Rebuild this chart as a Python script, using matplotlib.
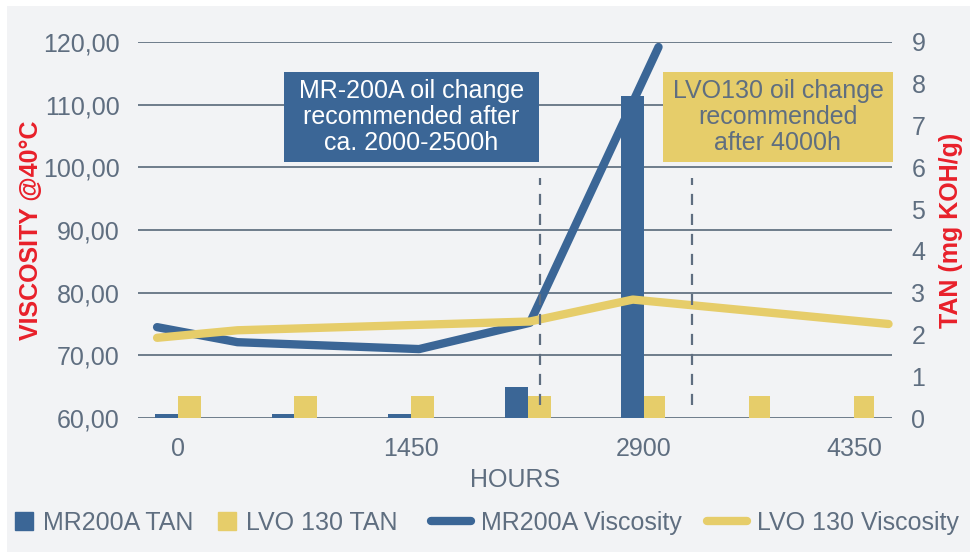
import numpy as np
import matplotlib
matplotlib.use('Agg')
import matplotlib.pyplot as plt
from matplotlib.patches import Rectangle
from matplotlib.lines import Line2D
from matplotlib.ticker import FuncFormatter

plt.rcParams['font.family'] = ['Liberation Sans', 'DejaVu Sans']

# sample hours for TAN bars
hours = [0, 725, 1450, 2175, 2900, 3625, 4350]
mr_tan = [0.1, 0.1, 0.1, 0.75, 7.7, 0.0, 0.0]
lvo_tan = [0.53, 0.53, 0.53, 0.53, 0.53, 0.53, 0.53]

# viscosity curves (hours, cSt @40C)
mr_visc_h = [-130, 370, 1500, 2190, 3000]
mr_visc = [74.5, 72.1, 71.0, 75.2, 119.2]
lvo_visc_h = [-130, 370, 2190, 2830, 4590]
lvo_visc = [72.8, 74.0, 75.4, 78.9, 75.0]

# recommended oil change markers
change_h = [2250, 3230]

xticks = [0, 1450, 2900, 4350]
visc_ticks = [60, 70, 80, 90, 100, 110, 120]
tan_ticks = list(range(10))

BLUE = '#3b6696'
YELLOW = '#e6cd6a'
GRAY_TXT = '#5f6e80'
GRID = '#6e7c8b'
BG = '#f2f3f5'
RED = '#e8202a'
FS = 18


def fwd(h):
    h = np.asarray(h, dtype=float)
    return np.where(h <= 2900, h, 2900 + (h - 2900) * 0.9)


def inv(x):
    x = np.asarray(x, dtype=float)
    return np.where(x <= 2900, x, 2900 + (x - 2900) / 0.9)


fig = plt.figure(figsize=(9.77, 5.59), dpi=100, facecolor='white')
fig.patches.append(Rectangle((0.0072, 0.0125), 0.9857, 0.9767, transform=fig.transFigure,
                             facecolor=BG, edgecolor='none', zorder=-10))

ax = fig.add_axes([0.1412, 0.2522, 0.7718, 0.6727])
ax.set_xscale('function', functions=(fwd, inv))
ax.patch.set_visible(False)
axr = ax.twinx()
axl = ax.twinx()

# grid on the bottom axes
for v in visc_ticks:
    ax.axhline(v, color=GRID, lw=1.4, zorder=0)
ax.set_ylim(60, 120)
ax.set_xlim(-249, 4614)
ax.set_yticks(visc_ticks)
ax.yaxis.set_major_formatter(FuncFormatter(lambda v, p: ('%.2f' % v).replace('.', ',')))
ax.set_xticks(xticks)
ax.set_xticklabels([str(t) for t in xticks])
ax.tick_params(axis='y', length=0, pad=13, labelsize=FS, labelcolor=GRAY_TXT)
ax.tick_params(axis='x', length=0, pad=14, labelsize=FS, labelcolor=GRAY_TXT)
ax.set_xlabel('HOURS', fontsize=FS, color=GRAY_TXT, labelpad=5)
ax.set_ylabel('VISCOSITY @40°C', fontsize=FS, color=RED, fontweight='bold', labelpad=0)

# TAN bars
w = 143
axr.bar(hours, mr_tan, width=-w, align='edge', color=BLUE, zorder=2)
axr.bar(hours, lvo_tan, width=w, align='edge', color=YELLOW, zorder=2)
axr.set_ylim(0, 9)
axr.set_yticks(tan_ticks)
axr.tick_params(axis='y', length=0, pad=14, labelsize=FS, labelcolor=GRAY_TXT)
axr.set_ylabel('TAN (mg KOH/g)', fontsize=FS, color=RED, fontweight='bold', labelpad=10)

# viscosity lines on top
axl.plot(mr_visc_h, mr_visc, color=BLUE, lw=6, solid_capstyle='round',
         solid_joinstyle='round', clip_on=False, zorder=3)
axl.plot(lvo_visc_h, lvo_visc, color=YELLOW, lw=6, solid_capstyle='round',
         solid_joinstyle='round', clip_on=False, zorder=3)
axl.vlines(change_h, 62.1, 98.3, colors=GRAY_TXT, lw=1.6, linestyles=(0, (5, 4)), zorder=4)
axl.set_ylim(60, 120)
axl.set_yticks([])

for a in (ax, axr, axl):
    for s in a.spines.values():
        s.set_visible(False)

# annotation boxes
fig.patches.append(Rectangle((0.2907, 0.7102), 0.261, 0.161, transform=fig.transFigure,
                             facecolor=BLUE, edgecolor='none', zorder=5))
fig.text(0.4212, 0.7907, 'MR-200A oil change\nrecommended after\nca. 2000-2500h',
         ha='center', va='center', color='white', fontsize=FS, linespacing=1.1, zorder=6)
fig.patches.append(Rectangle((0.6786, 0.7102), 0.2354, 0.161, transform=fig.transFigure,
                             facecolor=YELLOW, edgecolor='none', zorder=5))
fig.text(0.7963, 0.7907, 'LVO130 oil change\nrecommended\nafter 4000h',
         ha='center', va='center', color=GRAY_TXT, fontsize=FS, linespacing=1.1, zorder=6)

# legend: bar entries and line entries in two groups
bar_handles = [
    Line2D([], [], marker='s', ls='', color=BLUE, markersize=13),
    Line2D([], [], marker='s', ls='', color=YELLOW, markersize=13),
]
line_handles = [
    Line2D([], [], color=BLUE, lw=6, solid_capstyle='round'),
    Line2D([], [], color=YELLOW, lw=6, solid_capstyle='round'),
]
leg1 = fig.legend(bar_handles, ['MR200A TAN', 'LVO 130 TAN'], loc='center left',
                  bbox_to_anchor=(0.016, 0.064), ncol=2, frameon=False, fontsize=FS,
                  handlelength=0.7, handletextpad=0.4, columnspacing=1.0,
                  borderpad=0, borderaxespad=0, labelcolor=GRAY_TXT)
leg2 = fig.legend(line_handles, ['MR200A Viscosity', 'LVO 130 Viscosity'], loc='center right',
                  bbox_to_anchor=(0.981, 0.064), ncol=2, frameon=False, fontsize=FS,
                  handlelength=1.6, handletextpad=0.4, columnspacing=1.0,
                  borderpad=0, borderaxespad=0, labelcolor=GRAY_TXT)

fig.savefig('out.png', dpi=100, facecolor='white')
